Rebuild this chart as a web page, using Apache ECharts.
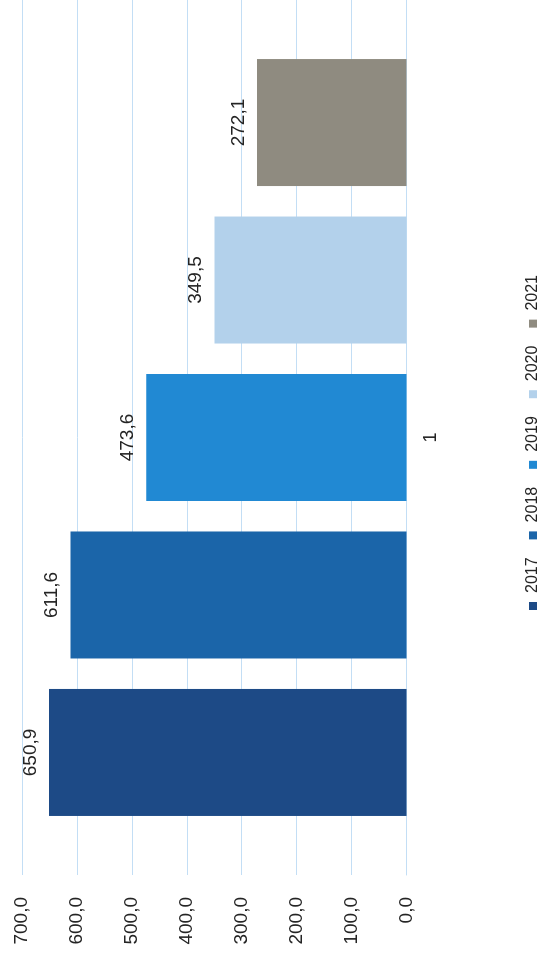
<!DOCTYPE html>
<html>
<head>
<meta charset="utf-8">
<script src="https://cdn.jsdelivr.net/npm/echarts@6/dist/echarts.min.js"></script>
<style>
  html, body { margin: 0; padding: 0; width: 539px; height: 962px; overflow: hidden; background: #ffffff; }
  #chart { position: absolute; left: 0; top: 0; width: 962px; height: 539px;
           transform-origin: 0 0; transform: translateY(962px) rotate(-90deg); }
</style>
</head>
<body>
<div id="chart"></div>
<script>
const categories = ['1'];
const seriesNames = ['2017', '2018', '2019', '2020', '2021'];
const seriesValues = [[650.9], [611.6], [473.6], [349.5], [272.1]];
const seriesColors = ['#1d4a86', '#1b65a9', '#2189d3', '#b3d1eb', '#8f8b80'];
const valueTicks = { min: 0, max: 700, interval: 100 };

const fmt = v => Number(v).toFixed(1).replace('.', ',');
const textColor = '#242424';
const gridColor = '#c3def5';
const fontFamily = '"Liberation Sans", Arial, sans-serif';

const chart = echarts.init(document.getElementById('chart'), null, { renderer: 'canvas' });
chart.setOption({
  backgroundColor: '#ffffff',
  animation: false,
  textStyle: { fontFamily: fontFamily },
  grid: { left: 87, right: -6, top: 22, bottom: 132.5, containLabel: false },
  legend: {
    data: seriesNames,
    left: 347, top: 520,
    itemWidth: 8, itemHeight: 8, itemGap: 18,
    icon: 'rect',
    textStyle: { fontSize: 16, color: textColor, fontFamily: fontFamily, padding: [0, 0, 0, 4] }
  },
  xAxis: {
    type: 'category',
    data: categories,
    axisLine: { show: true, lineStyle: { color: gridColor, width: 1 } },
    axisTick: { show: false },
    axisLabel: { fontSize: 18, color: textColor, margin: 16 }
  },
  yAxis: {
    type: 'value',
    min: valueTicks.min, max: valueTicks.max, interval: valueTicks.interval,
    axisLine: { show: false },
    axisTick: { show: false },
    splitLine: { show: true, lineStyle: { color: gridColor, width: 1 } },
    axisLabel: { fontSize: 19, color: textColor, margin: 22, formatter: v => fmt(v) }
  },
  series: seriesNames.map((name, i) => ({
    name: name,
    type: 'bar',
    data: seriesValues[i],
    barWidth: 127,
    barGap: '24%',
    itemStyle: { color: seriesColors[i] },
    label: {
      show: true, position: 'top', distance: 9,
      fontSize: 19, color: textColor,
      formatter: p => fmt(p.value)
    }
  }))
});
</script>
</body>
</html>
